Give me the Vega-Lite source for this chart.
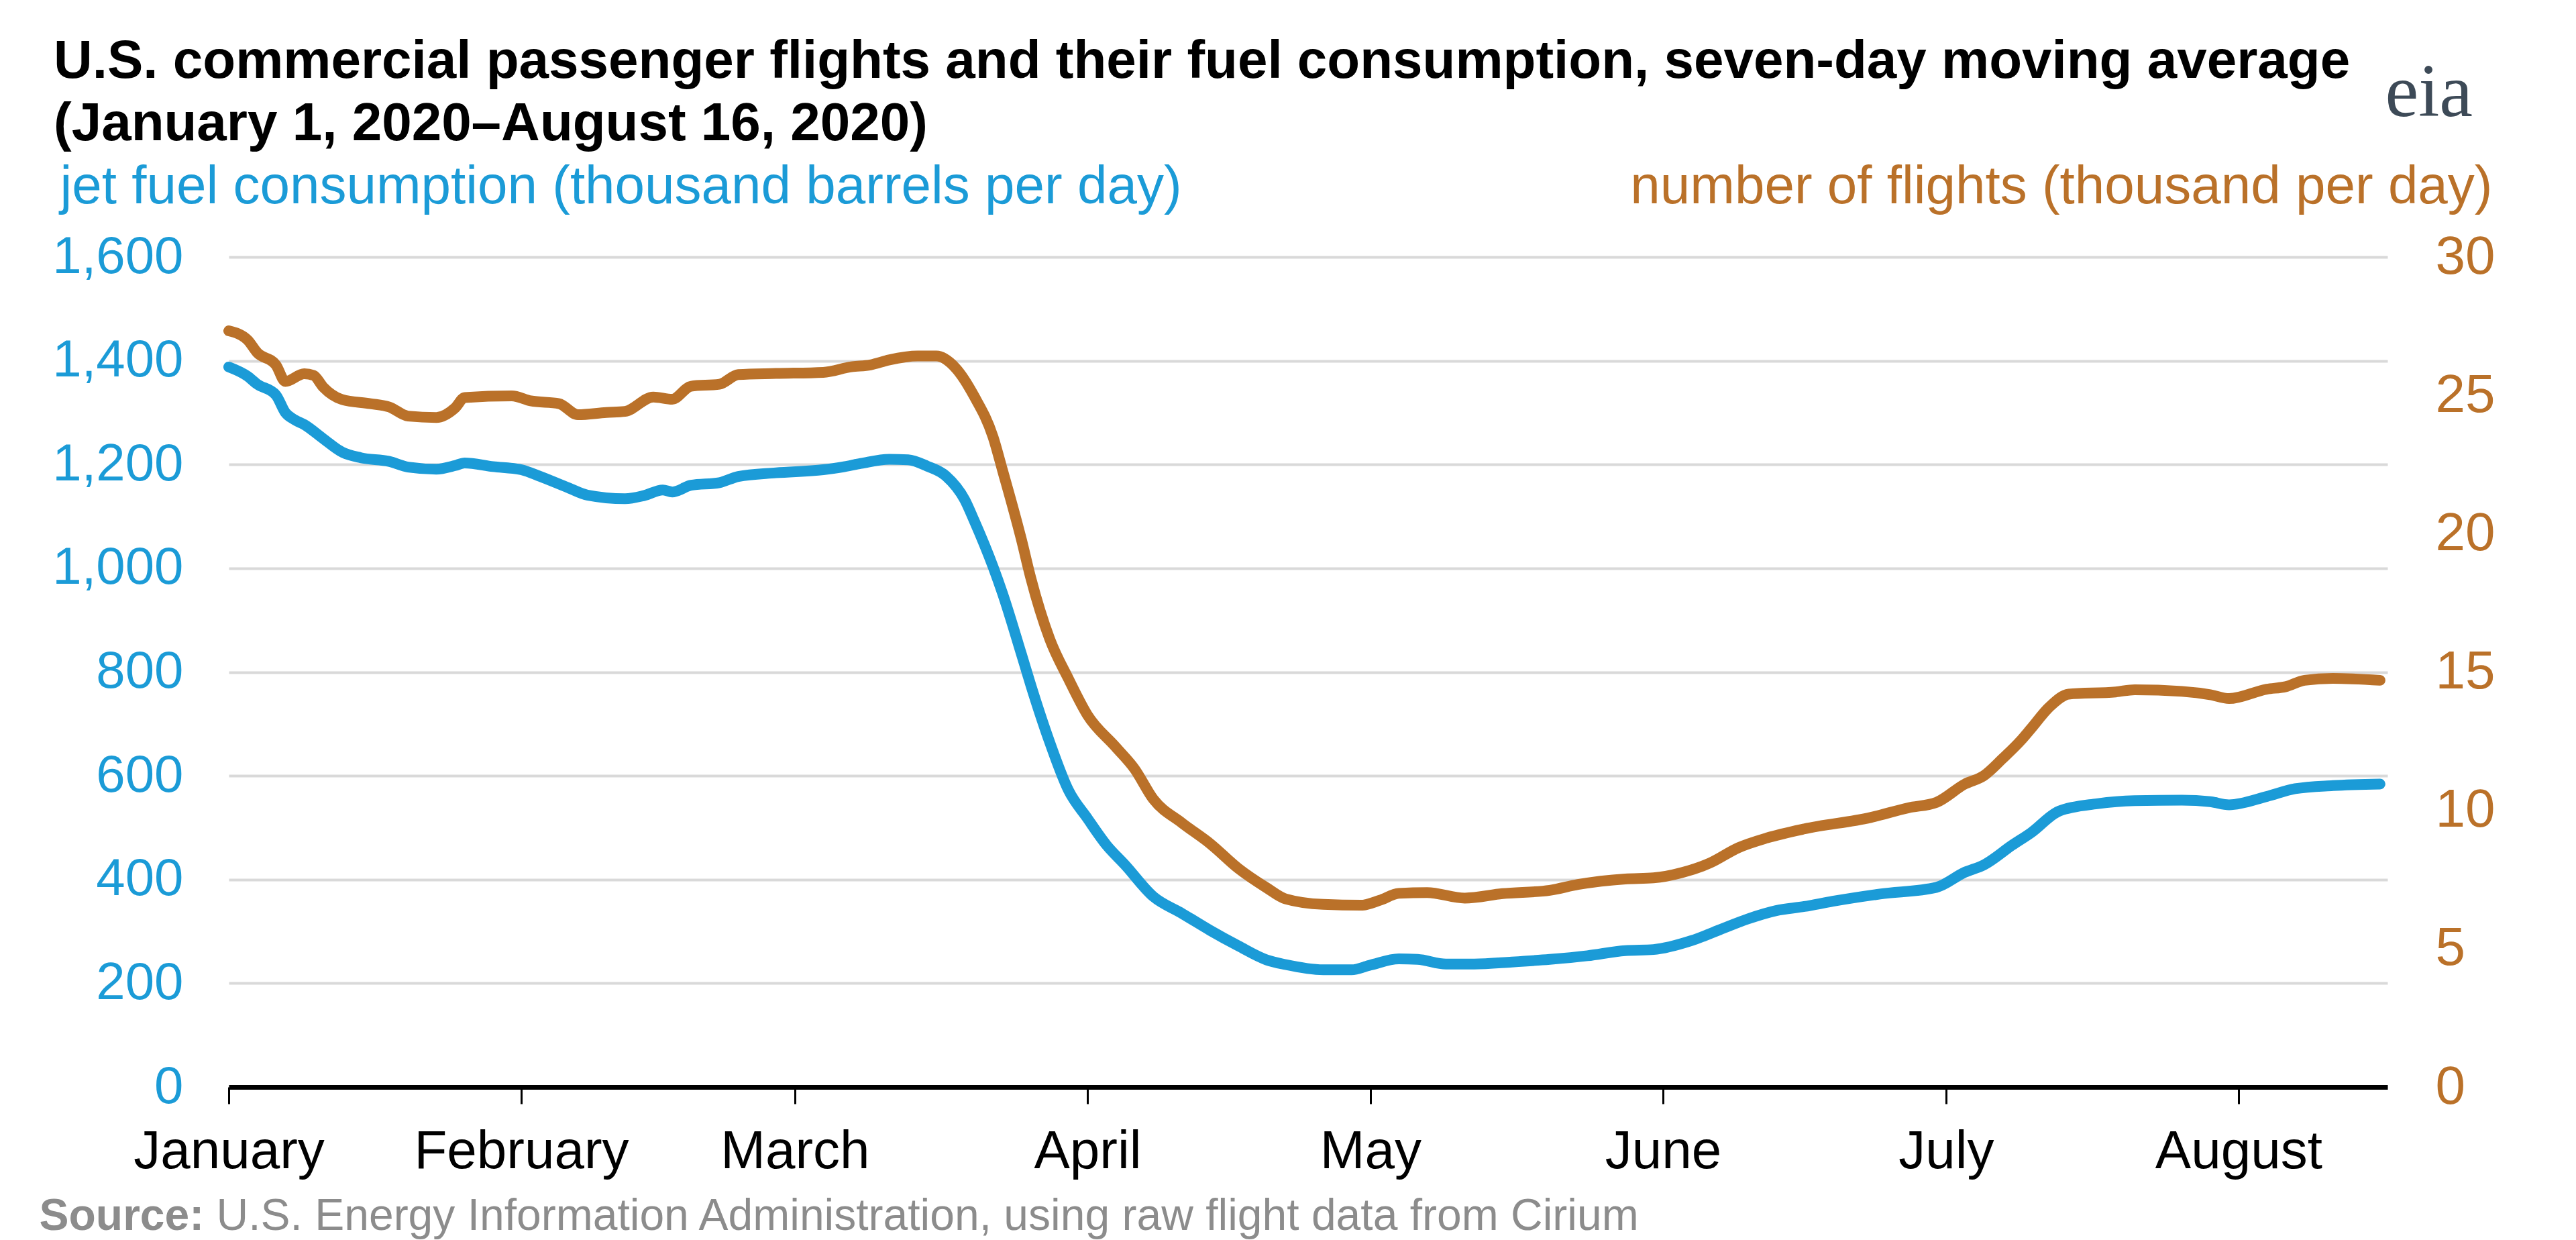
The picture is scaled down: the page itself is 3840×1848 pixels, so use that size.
{
  "$schema": "https://vega.github.io/schema/vega-lite/v6.json",
  "autosize": {"type": "none"},
  "width": 3218,
  "height": 1237,
  "padding": {"left": 341, "top": 383, "right": 281, "bottom": 228},
  "background": "white",
  "title": {
    "text": ["U.S. commercial passenger flights and their fuel consumption, seven-day moving average", "(January 1, 2020–August 16, 2020)"],
    "anchor": "start",
    "frame": "group",
    "dx": -261,
    "offset": -144,
    "font": "Liberation Sans",
    "fontSize": 80,
    "fontWeight": "bold",
    "color": "#000000",
    "lineHeight": 93
  },
  "config": {
    "view": {"stroke": null},
    "axis": {"labelFont": "Liberation Sans", "titleFont": "Liberation Sans", "labelLimit": 2000, "titleLimit": 4000}
  },
  "datasets": {
    "fuel": [
      {"date": "2020-01-01", "fuel": 1388},
      {"date": "2020-01-03", "fuel": 1370},
      {"date": "2020-01-04", "fuel": 1355},
      {"date": "2020-01-06", "fuel": 1334},
      {"date": "2020-01-07", "fuel": 1300},
      {"date": "2020-01-08", "fuel": 1286},
      {"date": "2020-01-09", "fuel": 1277},
      {"date": "2020-01-11", "fuel": 1250},
      {"date": "2020-01-13", "fuel": 1224},
      {"date": "2020-01-15", "fuel": 1213},
      {"date": "2020-01-18", "fuel": 1206},
      {"date": "2020-01-20", "fuel": 1195},
      {"date": "2020-01-23", "fuel": 1191},
      {"date": "2020-01-25", "fuel": 1198},
      {"date": "2020-01-26", "fuel": 1203},
      {"date": "2020-01-29", "fuel": 1196},
      {"date": "2020-02-01", "fuel": 1190},
      {"date": "2020-02-03", "fuel": 1177},
      {"date": "2020-02-06", "fuel": 1155},
      {"date": "2020-02-08", "fuel": 1141},
      {"date": "2020-02-12", "fuel": 1134},
      {"date": "2020-02-14", "fuel": 1140},
      {"date": "2020-02-16", "fuel": 1151},
      {"date": "2020-02-17", "fuel": 1147},
      {"date": "2020-02-19", "fuel": 1160},
      {"date": "2020-02-22", "fuel": 1165},
      {"date": "2020-02-24", "fuel": 1177},
      {"date": "2020-02-28", "fuel": 1184},
      {"date": "2020-03-04", "fuel": 1190},
      {"date": "2020-03-06", "fuel": 1195},
      {"date": "2020-03-08", "fuel": 1202},
      {"date": "2020-03-11", "fuel": 1210},
      {"date": "2020-03-13", "fuel": 1209},
      {"date": "2020-03-15", "fuel": 1197},
      {"date": "2020-03-17", "fuel": 1178},
      {"date": "2020-03-19", "fuel": 1132},
      {"date": "2020-03-20", "fuel": 1092},
      {"date": "2020-03-22", "fuel": 1003},
      {"date": "2020-03-23", "fuel": 952},
      {"date": "2020-03-25", "fuel": 835},
      {"date": "2020-03-26", "fuel": 775},
      {"date": "2020-03-28", "fuel": 665},
      {"date": "2020-03-30", "fuel": 572},
      {"date": "2020-04-01", "fuel": 518},
      {"date": "2020-04-03", "fuel": 467},
      {"date": "2020-04-05", "fuel": 428},
      {"date": "2020-04-08", "fuel": 367},
      {"date": "2020-04-11", "fuel": 335},
      {"date": "2020-04-14", "fuel": 302},
      {"date": "2020-04-17", "fuel": 272},
      {"date": "2020-04-20", "fuel": 245},
      {"date": "2020-04-22", "fuel": 236},
      {"date": "2020-04-26", "fuel": 226},
      {"date": "2020-04-29", "fuel": 226},
      {"date": "2020-05-01", "fuel": 235},
      {"date": "2020-05-04", "fuel": 247},
      {"date": "2020-05-06", "fuel": 246},
      {"date": "2020-05-09", "fuel": 237},
      {"date": "2020-05-12", "fuel": 237},
      {"date": "2020-05-16", "fuel": 241},
      {"date": "2020-05-20", "fuel": 246},
      {"date": "2020-05-24", "fuel": 253},
      {"date": "2020-05-28", "fuel": 263},
      {"date": "2020-05-31", "fuel": 265},
      {"date": "2020-06-04", "fuel": 282},
      {"date": "2020-06-07", "fuel": 303},
      {"date": "2020-06-10", "fuel": 324},
      {"date": "2020-06-13", "fuel": 340},
      {"date": "2020-06-16", "fuel": 348},
      {"date": "2020-06-19", "fuel": 358},
      {"date": "2020-06-24", "fuel": 372},
      {"date": "2020-06-30", "fuel": 385},
      {"date": "2020-07-03", "fuel": 414},
      {"date": "2020-07-05", "fuel": 428},
      {"date": "2020-07-08", "fuel": 466},
      {"date": "2020-07-10", "fuel": 490},
      {"date": "2020-07-13", "fuel": 532},
      {"date": "2020-07-17", "fuel": 546},
      {"date": "2020-07-21", "fuel": 552},
      {"date": "2020-07-26", "fuel": 553},
      {"date": "2020-07-29", "fuel": 550},
      {"date": "2020-07-31", "fuel": 544},
      {"date": "2020-08-04", "fuel": 560},
      {"date": "2020-08-07", "fuel": 575},
      {"date": "2020-08-11", "fuel": 581},
      {"date": "2020-08-16", "fuel": 584}
    ],
    "flights": [
      {"date": "2020-01-01", "flights": 27.33},
      {"date": "2020-01-03", "flights": 27.0},
      {"date": "2020-01-04", "flights": 26.55},
      {"date": "2020-01-06", "flights": 26.1},
      {"date": "2020-01-07", "flights": 25.5},
      {"date": "2020-01-09", "flights": 25.78},
      {"date": "2020-01-10", "flights": 25.72},
      {"date": "2020-01-11", "flights": 25.3},
      {"date": "2020-01-13", "flights": 24.85},
      {"date": "2020-01-16", "flights": 24.7},
      {"date": "2020-01-18", "flights": 24.58},
      {"date": "2020-01-20", "flights": 24.25},
      {"date": "2020-01-23", "flights": 24.2},
      {"date": "2020-01-25", "flights": 24.55},
      {"date": "2020-01-26", "flights": 24.92},
      {"date": "2020-01-31", "flights": 24.98},
      {"date": "2020-02-02", "flights": 24.8},
      {"date": "2020-02-05", "flights": 24.7},
      {"date": "2020-02-07", "flights": 24.3},
      {"date": "2020-02-10", "flights": 24.38},
      {"date": "2020-02-12", "flights": 24.42},
      {"date": "2020-02-15", "flights": 24.94},
      {"date": "2020-02-17", "flights": 24.86},
      {"date": "2020-02-19", "flights": 25.33},
      {"date": "2020-02-22", "flights": 25.4},
      {"date": "2020-02-24", "flights": 25.75},
      {"date": "2020-02-28", "flights": 25.79},
      {"date": "2020-03-04", "flights": 25.83},
      {"date": "2020-03-07", "flights": 26.03},
      {"date": "2020-03-09", "flights": 26.1},
      {"date": "2020-03-11", "flights": 26.28},
      {"date": "2020-03-14", "flights": 26.42},
      {"date": "2020-03-16", "flights": 26.42},
      {"date": "2020-03-18", "flights": 26.0},
      {"date": "2020-03-20", "flights": 24.97},
      {"date": "2020-03-22", "flights": 23.5},
      {"date": "2020-03-23", "flights": 22.3},
      {"date": "2020-03-25", "flights": 19.8},
      {"date": "2020-03-26", "flights": 18.4},
      {"date": "2020-03-28", "flights": 16.2},
      {"date": "2020-03-30", "flights": 14.75},
      {"date": "2020-04-01", "flights": 13.45},
      {"date": "2020-04-04", "flights": 12.29},
      {"date": "2020-04-06", "flights": 11.5},
      {"date": "2020-04-08", "flights": 10.4},
      {"date": "2020-04-11", "flights": 9.55},
      {"date": "2020-04-14", "flights": 8.8},
      {"date": "2020-04-17", "flights": 7.9},
      {"date": "2020-04-20", "flights": 7.2},
      {"date": "2020-04-22", "flights": 6.8},
      {"date": "2020-04-26", "flights": 6.6},
      {"date": "2020-04-30", "flights": 6.57},
      {"date": "2020-05-02", "flights": 6.75},
      {"date": "2020-05-04", "flights": 7.0},
      {"date": "2020-05-07", "flights": 7.03},
      {"date": "2020-05-11", "flights": 6.83},
      {"date": "2020-05-15", "flights": 6.99},
      {"date": "2020-05-20", "flights": 7.11},
      {"date": "2020-05-23", "flights": 7.32},
      {"date": "2020-05-28", "flights": 7.52},
      {"date": "2020-05-31", "flights": 7.56},
      {"date": "2020-06-03", "flights": 7.75},
      {"date": "2020-06-06", "flights": 8.1},
      {"date": "2020-06-09", "flights": 8.65},
      {"date": "2020-06-12", "flights": 9.0},
      {"date": "2020-06-16", "flights": 9.33},
      {"date": "2020-06-23", "flights": 9.74},
      {"date": "2020-06-27", "flights": 10.09},
      {"date": "2020-06-30", "flights": 10.29},
      {"date": "2020-07-03", "flights": 10.95},
      {"date": "2020-07-05", "flights": 11.25},
      {"date": "2020-07-07", "flights": 11.87},
      {"date": "2020-07-09", "flights": 12.55},
      {"date": "2020-07-10", "flights": 12.95},
      {"date": "2020-07-12", "flights": 13.75},
      {"date": "2020-07-14", "flights": 14.2},
      {"date": "2020-07-19", "flights": 14.28},
      {"date": "2020-07-21", "flights": 14.36},
      {"date": "2020-07-26", "flights": 14.3},
      {"date": "2020-07-29", "flights": 14.18},
      {"date": "2020-07-31", "flights": 14.04},
      {"date": "2020-08-04", "flights": 14.38},
      {"date": "2020-08-06", "flights": 14.47},
      {"date": "2020-08-08", "flights": 14.7},
      {"date": "2020-08-11", "flights": 14.77},
      {"date": "2020-08-16", "flights": 14.7}
    ]
  },
  "layer": [
    {
      "data": {"name": "fuel"},
      "mark": {"type": "line", "color": "#1b9bd7", "strokeWidth": 16, "interpolate": "monotone", "strokeCap": "round", "strokeJoin": "round"},
      "encoding": {
        "x": {
          "field": "date", "type": "temporal",
          "scale": {"type": "utc", "domain": [{"year": 2020, "month": 1, "date": 1, "utc": true}, {"year": 2020, "month": 8, "date": 16, "hours": 19, "utc": true}]},
          "axis": {
            "orient": "bottom",
            "values": [
              {"year": 2020, "month": 1, "date": 1, "utc": true},
              {"year": 2020, "month": 2, "date": 1, "utc": true},
              {"year": 2020, "month": 3, "date": 1, "utc": true},
              {"year": 2020, "month": 4, "date": 1, "utc": true},
              {"year": 2020, "month": 5, "date": 1, "utc": true},
              {"year": 2020, "month": 6, "date": 1, "utc": true},
              {"year": 2020, "month": 7, "date": 1, "utc": true},
              {"year": 2020, "month": 8, "date": 1, "utc": true}
            ],
            "format": "%B",
            "labelFontSize": 80,
            "labelColor": "#000000",
            "labelPadding": 32,
            "labelFlush": false,
            "labelOverlap": false,
            "labelLimit": 2000,
            "tickSize": 25,
            "tickWidth": 3,
            "tickColor": "#000000",
            "domainColor": "#000000",
            "domainWidth": 7,
            "grid": false,
            "title": "Source:",
            "titleFontSize": 66,
            "titleFontWeight": "bold",
            "titleColor": "#8c8c8c",
            "titleX": -283,
            "titleY": 212,
            "titleAlign": "left",
            "titleBaseline": "alphabetic",
            "titleAngle": 0
          }
        },
        "y": {
          "field": "fuel", "type": "quantitative",
          "scale": {"domain": [0, 1600], "nice": false},
          "axis": {
            "orient": "left",
            "values": [0, 200, 400, 600, 800, 1000, 1200, 1400, 1600],
            "format": ",d",
            "labelFontSize": 78,
            "labelColor": "#1b9bd7",
            "labelPadding": 68,
            "labelLimit": 2000,
            "ticks": false,
            "tickSize": 0,
            "domain": false,
            "grid": true,
            "gridColor": "#d9d9d9",
            "gridWidth": 4,
            "title": "jet fuel consumption (thousand barrels per day)",
            "titleColor": "#1b9bd7",
            "titleFontSize": 80,
            "titleFontWeight": "normal",
            "titleAngle": 0,
            "titleAlign": "left",
            "titleBaseline": "alphabetic",
            "titleX": -252,
            "titleY": -81
          }
        }
      }
    },
    {
      "data": {"name": "flights"},
      "mark": {"type": "line", "color": "#ba7129", "strokeWidth": 16, "interpolate": "monotone", "strokeCap": "round", "strokeJoin": "round"},
      "encoding": {
        "x": {
          "field": "date", "type": "temporal",
          "scale": {"type": "utc", "domain": [{"year": 2020, "month": 1, "date": 1, "utc": true}, {"year": 2020, "month": 8, "date": 16, "hours": 19, "utc": true}]},
          "axis": {
            "orient": "bottom",
            "labels": false,
            "ticks": false,
            "domain": false,
            "grid": false,
            "title": "U.S. Energy Information Administration, using raw flight data from Cirium",
            "titleFontSize": 66,
            "titleFontWeight": "normal",
            "titleColor": "#8c8c8c",
            "titleX": -19,
            "titleY": 212,
            "titleAlign": "left",
            "titleBaseline": "alphabetic",
            "titleAngle": 0
          }
        },
        "y": {
          "field": "flights", "type": "quantitative",
          "scale": {"domain": [0, 30], "nice": false},
          "axis": {
            "orient": "right",
            "values": [0, 5, 10, 15, 20, 25, 30],
            "labelFontSize": 80,
            "labelColor": "#ba7129",
            "labelPadding": 71,
            "labelLimit": 2000,
            "ticks": false,
            "tickSize": 0,
            "domain": false,
            "grid": false,
            "title": "number of flights (thousand per day)",
            "titleColor": "#ba7129",
            "titleFontSize": 80,
            "titleFontWeight": "normal",
            "titleAngle": 0,
            "titleAlign": "right",
            "titleBaseline": "alphabetic",
            "titleX": 156,
            "titleY": -81
          }
        }
      }
    },
    {
      "data": {"name": "flights"},
      "mark": {"type": "line", "opacity": 0},
      "encoding": {
        "x": {
          "field": "date", "type": "temporal",
          "scale": {"type": "utc", "domain": [{"year": 2020, "month": 1, "date": 1, "utc": true}, {"year": 2020, "month": 8, "date": 16, "hours": 19, "utc": true}]},
          "axis": {
            "orient": "bottom",
            "labels": false,
            "ticks": false,
            "domain": false,
            "grid": false,
            "title": "eia",
            "titleFont": "Liberation Serif",
            "titleFontSize": 112,
            "titleFontWeight": "normal",
            "titleColor": "#3d4a57",
            "titleX": 3214,
            "titleY": -1448,
            "titleAlign": "left",
            "titleBaseline": "alphabetic",
            "titleAngle": 0
          }
        },
        "y": {"field": "flights", "type": "quantitative", "axis": null}
      }
    }
  ],
  "resolve": {"scale": {"y": "independent"}, "axis": {"x": "independent"}}
}
